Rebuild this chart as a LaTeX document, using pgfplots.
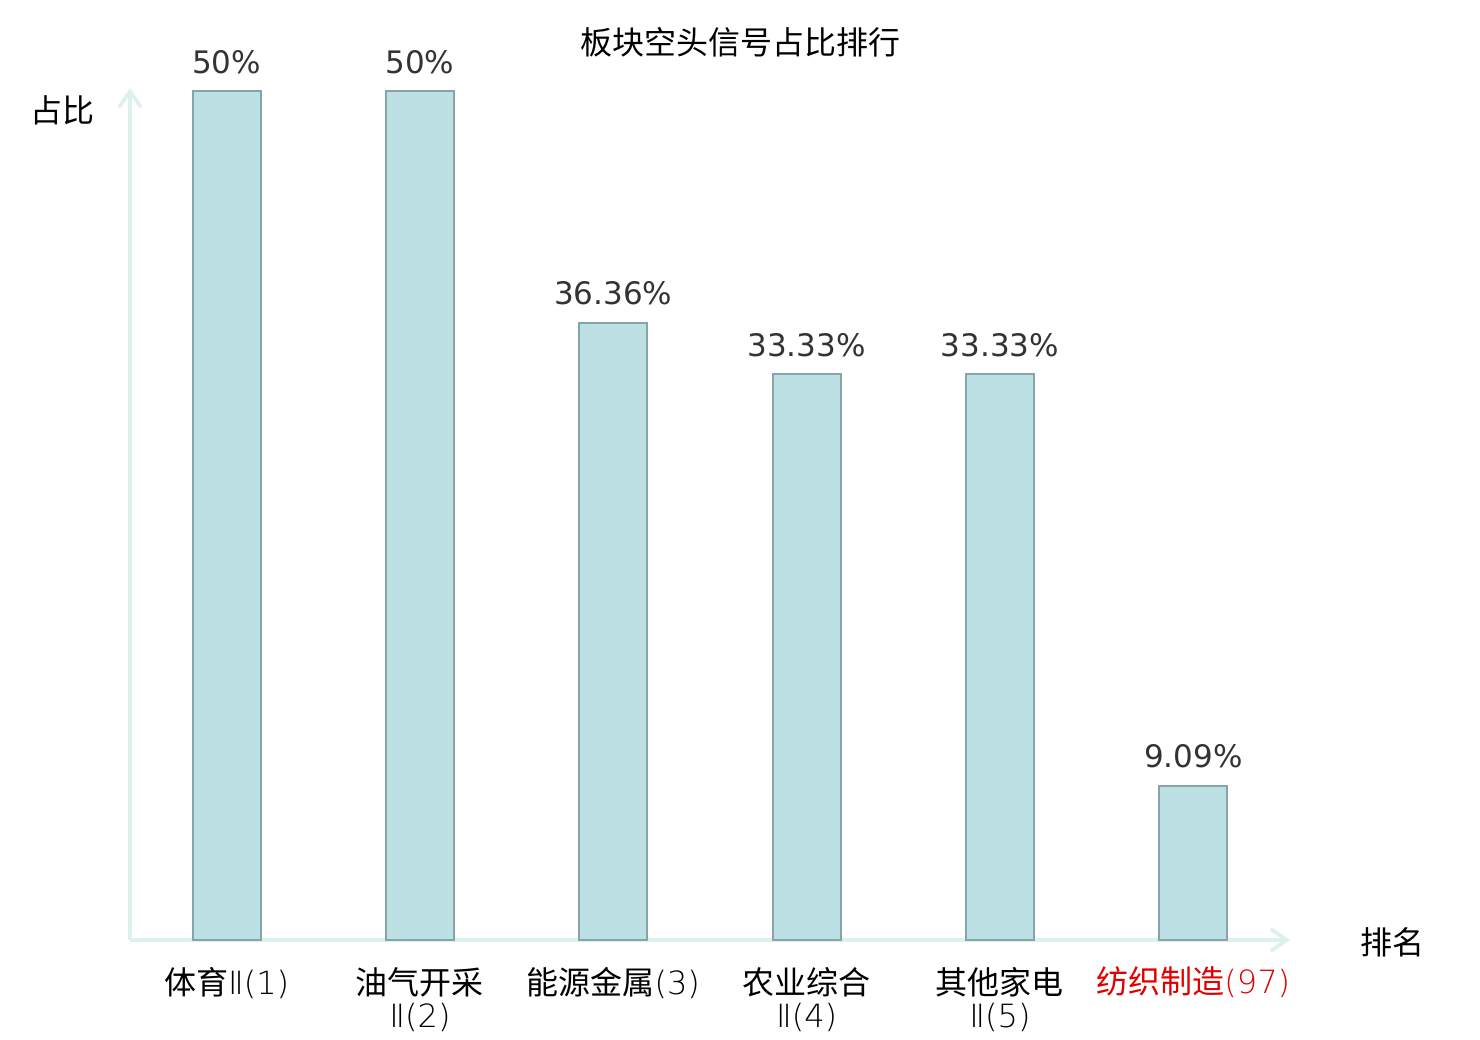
\documentclass[border=0pt]{standalone}
\usepackage{pgfplots}
\pgfplotsset{compat=1.18}
\usepackage{pgfplotstable}
\usetikzlibrary{arrows.meta}
\usepackage{fontspec}
\setmainfont{Noto Sans CJK SC}
\newfontfamily\dejavu{DejaVu Sans}
\newfontfamily\thin{DejaVu Sans ExtraLight}
\definecolor{barfill}{RGB}{188,224,227}
\definecolor{baredge}{RGB}{135,165,168}
\definecolor{axcol}{RGB}{220,240,237}
\definecolor{valcol}{RGB}{51,51,51}
\definecolor{redlab}{RGB}{224,0,0}
\pgfplotstableread{
x y lab
0 50 50
1 50 50
2 36.36 36.36
3 33.33 33.33
4 33.33 33.33
5 9.09 9.09
}\data
\begin{document}
\begin{tikzpicture}
\path[use as bounding box] (0,0) rectangle (740pt,520pt);
\begin{axis}[
  at={(65pt,50pt)}, anchor=south west,
  scale only axis, width=580pt, height=426pt,
  xmin=-0.5, xmax=5.5, ymin=0, ymax=50.18,
  axis lines=left,
  axis line style={axcol, line width=1.8pt, -{Straight Barb[length=8pt,width=11pt,line width=1.8pt]}},
  ytick=\empty,
  xtick={0,1,2,3,4,5},
  major tick length=0pt,
  xticklabels={{体育{\thin Ⅱ(1)}},{油气开采\\{\thin Ⅱ(2)}},{能源金属{\thin (3)}},{农业综合\\{\thin Ⅱ(4)}},{其他家电\\{\thin Ⅱ(5)}},{\color{redlab}纺织制造{\thin (97)}}},
  xticklabel style={align=center, anchor=north, yshift=-10pt, font=\fontsize{16pt}{16.5pt}\selectfont, text=black},
  clip=false,
  point meta=explicit symbolic,
  nodes near coords={\pgfplotspointmeta\%},
  nodes near coords style={font=\dejavu\fontsize{15.5pt}{17pt}\selectfont, text=valcol, anchor=south, yshift=5pt},
]
\addplot[ybar, bar width=34pt, fill=barfill, draw=baredge, line width=0.9pt] table[x=x,y=y,meta=lab] {\data};
\end{axis}
\node[font=\fontsize{16pt}{17pt}\selectfont] at (370pt,499pt) {板块空头信号占比排行};
\node[font=\fontsize{16pt}{17pt}\selectfont] at (31.5pt,465pt) {占比};
\node[font=\fontsize{16pt}{17pt}\selectfont] at (696pt,49pt) {排名};
\end{tikzpicture}
\end{document}
